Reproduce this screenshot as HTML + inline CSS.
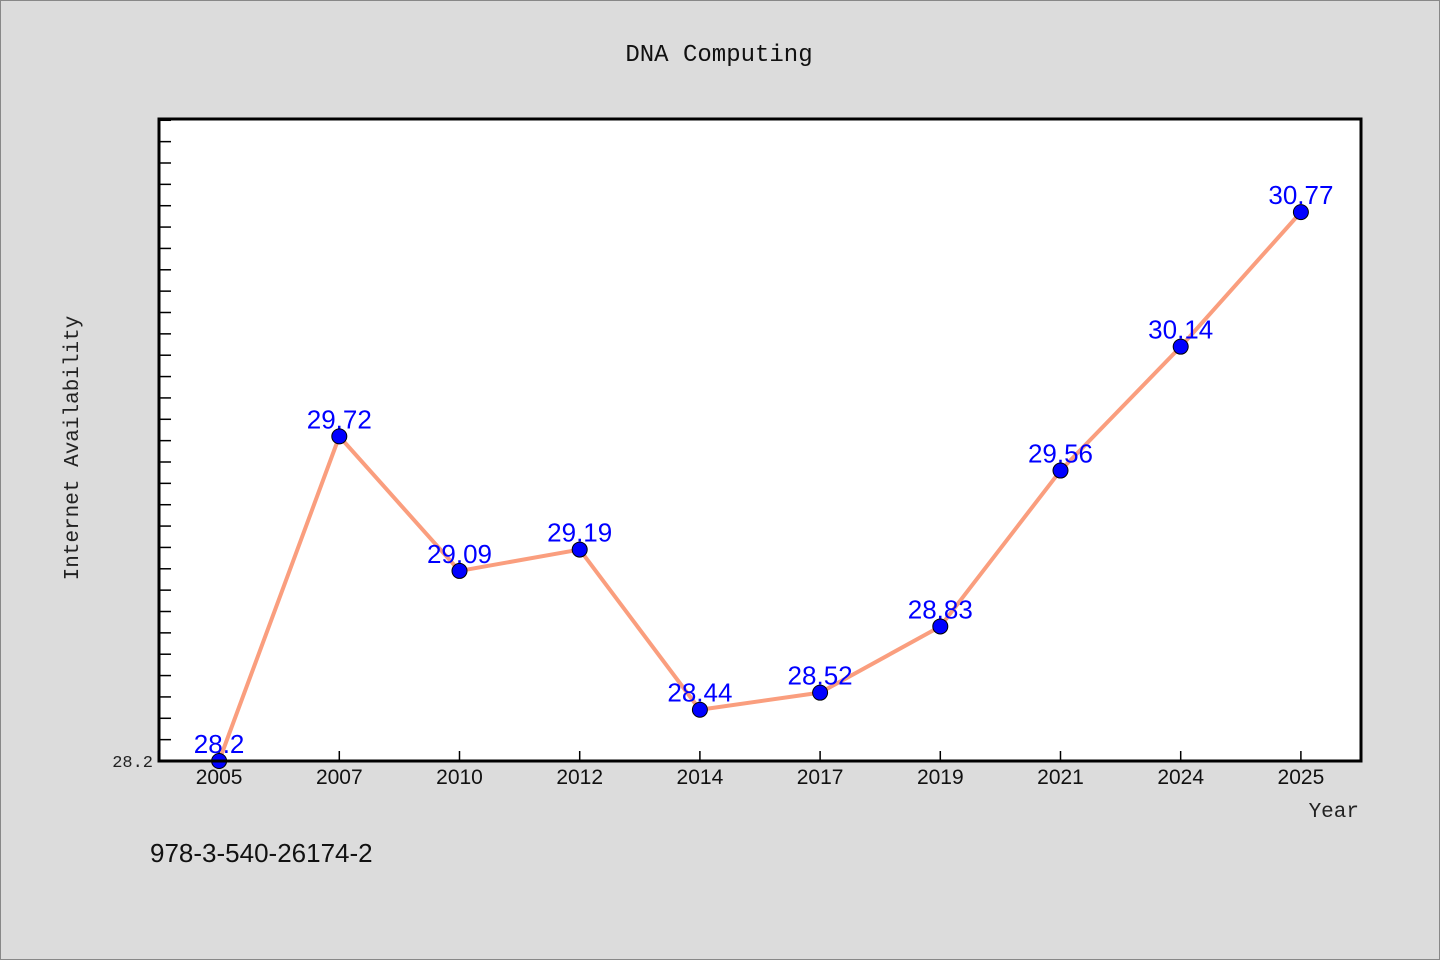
<!DOCTYPE html>
<html><head><meta charset="utf-8"><style>
body{margin:0;background:#dcdcdc;}
svg{display:block;font-family:"Liberation Mono","Noto Sans CJK SC",monospace;}
</style></head><body>
<svg width="1440" height="960">
<rect x="0.5" y="0.5" width="1439" height="959" fill="#dcdcdc" stroke="#888"/>
<text x="719" y="61" font-size="24" text-anchor="middle" fill="#111">DNA Computing</text>
<rect x="159" y="119" width="1202" height="642" fill="#fff"/>
<g id="ticks"></g>
<path id="line" fill="none" stroke="#fa9e7e" stroke-width="4" stroke-linejoin="round"/>
<g id="labels"></g>
<g id="pts"></g>
<rect x="159" y="119" width="1202" height="642" fill="none" stroke="#000" stroke-width="3"/>
<text x="78" y="448" font-size="21" text-anchor="middle" fill="#222" transform="rotate(-90 78 448)">Internet Availability</text>
<text x="1359" y="817" font-size="21" text-anchor="end" fill="#222">Year</text>
<text x="150" y="862" font-size="26" fill="#111" font-family="Liberation Sans, sans-serif">978-3-540-26174-2</text>
</svg>
<script>
const categories=["2005","2007","2010","2012","2014","2017","2019","2021","2024","2025"];
const values=[28.2,29.72,29.09,29.19,28.44,28.52,28.83,29.56,30.14,30.77];
const yTickLabels=["28.2"];
const yMin=28.2,yMax=31.206,yStep=0.1;
const L=159,R=1361,T=119,B=761;
const NS="http://www.w3.org/2000/svg";
const xs=i=>L+(R-L)/categories.length*(i+0.5);
const ys=v=>B-(v-yMin)/(yMax-yMin)*(B-T);
function mk(t,a,p){const e=document.createElementNS(NS,t);for(const k in a)e.setAttribute(k,a[k]);p.appendChild(e);return e;}
const tk=document.getElementById('ticks');
for(let v=yMin+yStep;v<yMax;v+=yStep){const l=mk('line',{x1:L,x2:L+12,y1:ys(v),y2:ys(v),stroke:'#000','stroke-width':1.5},tk);

}
yTickLabels.forEach(s=>{const t=mk('text',{x:L-6,y:ys(+s)+6,'font-size':17,'text-anchor':'end',fill:'#222'},tk);t.textContent=s;

});
categories.forEach((c,i)=>{const l=mk('line',{x1:xs(i),x2:xs(i),y1:B,y2:B-10,stroke:'#000','stroke-width':1.5},tk);


const t=mk('text',{x:xs(i),y:B+23,'font-size':21,'text-anchor':'middle',fill:'#111','font-family':'Liberation Sans, sans-serif'},tk);t.textContent=c;

});
document.getElementById('line').setAttribute('d',values.map((v,i)=>(i?'L':'M')+xs(i)+' '+ys(v)).join(' '));
const lb=document.getElementById('labels'),pt=document.getElementById('pts');
values.forEach((v,i)=>{const t=mk('text',{x:xs(i),y:ys(v)-8,'font-size':26,'text-anchor':'middle',fill:'#0000ff','font-family':'Liberation Sans, sans-serif'},lb);t.textContent=String(v);


const c=mk('circle',{cx:xs(i),cy:ys(v),r:7.5,fill:'#0000ff',stroke:'#000','stroke-width':1},pt);

});
</script>
</body></html>
